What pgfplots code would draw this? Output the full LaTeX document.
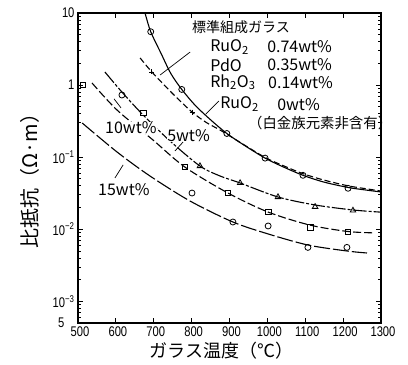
\documentclass[border=0pt]{standalone}
\usepackage{fontspec}
\usepackage{graphicx}
\usepackage{pgfplots}
\pgfplotsset{compat=1.18}
\setmainfont{Noto Sans CJK JP}
\newfontfamily\tickfont{Liberation Sans}
\newcommand\tl[1]{\scalebox{0.8}[1]{#1}}

% 0 wt% RuO2 (no platinum group) - solid line
\pgfplotstableread{
x y
677 10
692 5.5
720 2.7
745 1.45
774 0.87
810 0.52
850 0.33
893 0.213
940 0.145
994 0.097
1040 0.074
1094 0.056
1150 0.045
1213 0.038
1260 0.035
1298 0.033
}\zeroline
\pgfplotstableread{
x y
692 5.5
774 0.87
893 0.213
994 0.097
1094 0.056
1213 0.037
}\zeromarks
% standard composition glass - dashed
\pgfplotstableread{
x y
664 2.38
695 1.52
750 0.76
801 0.423
840 0.30
875 0.238
930 0.158
994 0.099
1040 0.077
1094 0.059
1150 0.048
1213 0.0400
1260 0.0365
1298 0.034
}\stdline
\pgfplotstableread{
x y
695 1.52
801 0.423
}\stdmarks
% 5 wt%
\pgfplotstableread{
x y
571 1.52
616 0.80
672 0.384
743 0.1675
822 0.0753
875 0.0548
928 0.0438
1028 0.0280
1126 0.0217
1226 0.0185
1297 0.0173
}\fiveline
\pgfplotstableread{
x y
822 0.0753
928 0.0438
1028 0.0280
1126 0.0205
1226 0.0182
}\fivemarks
% 10 wt%
\pgfplotstableread{
x y
537 1.07
603 0.451
698 0.173
782 0.073
896 0.0318
1002 0.0173
1113 0.0114
1213 0.0093
1284 0.0089
}\tenline
\pgfplotstableread{
x y
513 1.0
672 0.41
782 0.073
896 0.0318
1002 0.0173
1113 0.0107
1213 0.00915
}\tenmarks
% 15 wt%
\pgfplotstableread{
x y
511 0.298
603 0.118
690 0.0548
796 0.0246
909 0.0126
1002 0.0086
1107 0.00604
1210 0.00499
1263 0.00468
}\fifteenline
\pgfplotstableread{
x y
616 0.728
801 0.0318
909 0.0126
1002 0.0111
1107 0.0056
1210 0.0056
}\fifteenmarks

\begin{document}
\begin{tikzpicture}
\begin{axis}[name=ax, scale only axis, width=303pt, height=310pt,
  xmin=500, xmax=1300, ymode=log, ymin=5e-4, ymax=10,
  clip=false,
  xtick={500,600,700,800,900,1000,1100,1200,1300},
  xticklabels={\tl{500},\tl{600},\tl{700},\tl{800},\tl{900},\tl{1000},\tl{1100},\tl{1200},\tl{1300}},
  ytick={5e-4,1e-3,1e-2,1e-1,1,10},
  yticklabels={\makebox[0pt][r]{\tl{5}\kern10pt},\tl{10\textsuperscript{−3}},\tl{10\textsuperscript{−2}},\tl{10\textsuperscript{−1}},\tl{1},\tl{10}},
  minor ytick={6e-4,7e-4,8e-4,9e-4,2e-3,3e-3,4e-3,5e-3,6e-3,7e-3,8e-3,9e-3,0.02,0.03,0.04,0.05,0.06,0.07,0.08,0.09,0.2,0.3,0.4,0.5,0.6,0.7,0.8,0.9,2,3,4,5,6,7,8,9},
  tick label style={font=\tickfont\fontsize{14}{14}\selectfont},
  xticklabel style={xshift=2pt},
  tick align=inside, major tick length=5pt, minor tick length=3pt,
  every tick/.style={black, line width=0.8pt},
  axis line style={line width=1.3pt},
  xlabel={ガラス温度（℃）}, ylabel={比抵抗（Ω·m）},
  xlabel style={font=\fontsize{18}{18}\selectfont, at={(axis description cs:0.474,-0.090)}, anchor=center},
  ylabel style={font=\fontsize{20}{20}\selectfont, at={(axis description cs:-0.158,0.473)}, anchor=center},
  every axis plot/.append style={black, line width=1.1pt},
]
% lines
\addplot[smooth, no marks] table {\zeroline};
\addplot[smooth, no marks, dash pattern=on 6pt off 3pt] table {\stdline};
\addplot[smooth, no marks, dash pattern=on 14pt off 2pt on 3pt off 2pt] table {\fiveline};
\addplot[smooth, no marks, dash pattern=on 8pt off 3pt] table {\tenline};
\addplot[smooth, no marks, dash pattern=on 16pt off 3pt] table {\fifteenline};
% marks
\addplot[only marks, mark=o, mark size=3pt, mark options={solid, line width=0.8pt, fill=white}] table {\zeromarks};
\addplot[only marks, mark=+, mark size=2.5pt, mark options={solid, line width=0.8pt}] table {\stdmarks};
\addplot[only marks, mark=triangle, mark size=3.2pt, mark options={solid, line width=0.8pt, fill=white}] table {\fivemarks};
\addplot[only marks, mark=square, mark size=2.8pt, mark options={solid, line width=0.8pt, fill=white}] table {\tenmarks};
\addplot[only marks, mark=o, mark size=3pt, mark options={solid, line width=0.8pt, fill=white}] table {\fifteenmarks};

% annotations
\node[anchor=west, font=\fontsize{14}{14}\selectfont, inner sep=0pt] at (rel axis cs:0.376,0.955) {標準組成ガラス};
\node[anchor=west, font=\fontsize{16}{16}\selectfont, inner sep=0pt] at (rel axis cs:0.436,0.890) {RuO\textsubscript{2}};
\node[anchor=west, font=\fontsize{16}{16}\selectfont, inner sep=0pt] at (rel axis cs:0.624,0.890) {0.74wt\%};
\node[anchor=west, font=\fontsize{16}{16}\selectfont, inner sep=0pt] at (rel axis cs:0.436,0.832) {PdO};
\node[anchor=west, font=\fontsize{16}{16}\selectfont, inner sep=0pt] at (rel axis cs:0.624,0.832) {0.35wt\%};
\node[anchor=west, font=\fontsize{16}{16}\selectfont, inner sep=0pt] at (rel axis cs:0.436,0.777) {Rh\textsubscript{2}O\textsubscript{3}};
\node[anchor=west, font=\fontsize{16}{16}\selectfont, inner sep=0pt] at (rel axis cs:0.627,0.777) {0.14wt\%};
\node[anchor=west, font=\fontsize{16}{16}\selectfont, inner sep=0pt] at (rel axis cs:0.469,0.706) {RuO\textsubscript{2}};
\node[anchor=west, font=\fontsize{16}{16}\selectfont, inner sep=0pt] at (rel axis cs:0.657,0.706) {0wt\%};
\node[anchor=west, font=\fontsize{14.4}{14.4}\selectfont, inner sep=0pt] at (rel axis cs:0.561,0.645) {（白金族元素非含有）};
\node[anchor=west, font=\fontsize{16}{16}\selectfont, inner sep=0pt, fill=white] at (rel axis cs:0.089,0.629) {10wt\%};
\node[anchor=west, font=\fontsize{16}{16}\selectfont, inner sep=0pt, fill=white] at (rel axis cs:0.294,0.603) {5wt\%};
\node[anchor=west, font=\fontsize{16}{16}\selectfont, inner sep=0pt] at (rel axis cs:0.066,0.429) {15wt\%};
% pointer lines
\draw[line width=0.7pt] (rel axis cs:0.370,0.874) -- (rel axis cs:0.271,0.800);
\draw[line width=0.7pt] (rel axis cs:0.465,0.716) -- (rel axis cs:0.422,0.674);
\draw[line width=0.7pt] (rel axis cs:0.119,0.723) -- (rel axis cs:0.142,0.694);
\draw[line width=0.7pt] (rel axis cs:0.347,0.584) -- (rel axis cs:0.320,0.555);
\draw[line width=0.7pt] (rel axis cs:0.122,0.468) -- (rel axis cs:0.149,0.510);
\end{axis}
\pgfresetboundingbox
\path ([shift={(-78pt,-41pt)}]ax.south west) rectangle ([shift={(27pt,13pt)}]ax.north east);
\end{tikzpicture}
\end{document}
